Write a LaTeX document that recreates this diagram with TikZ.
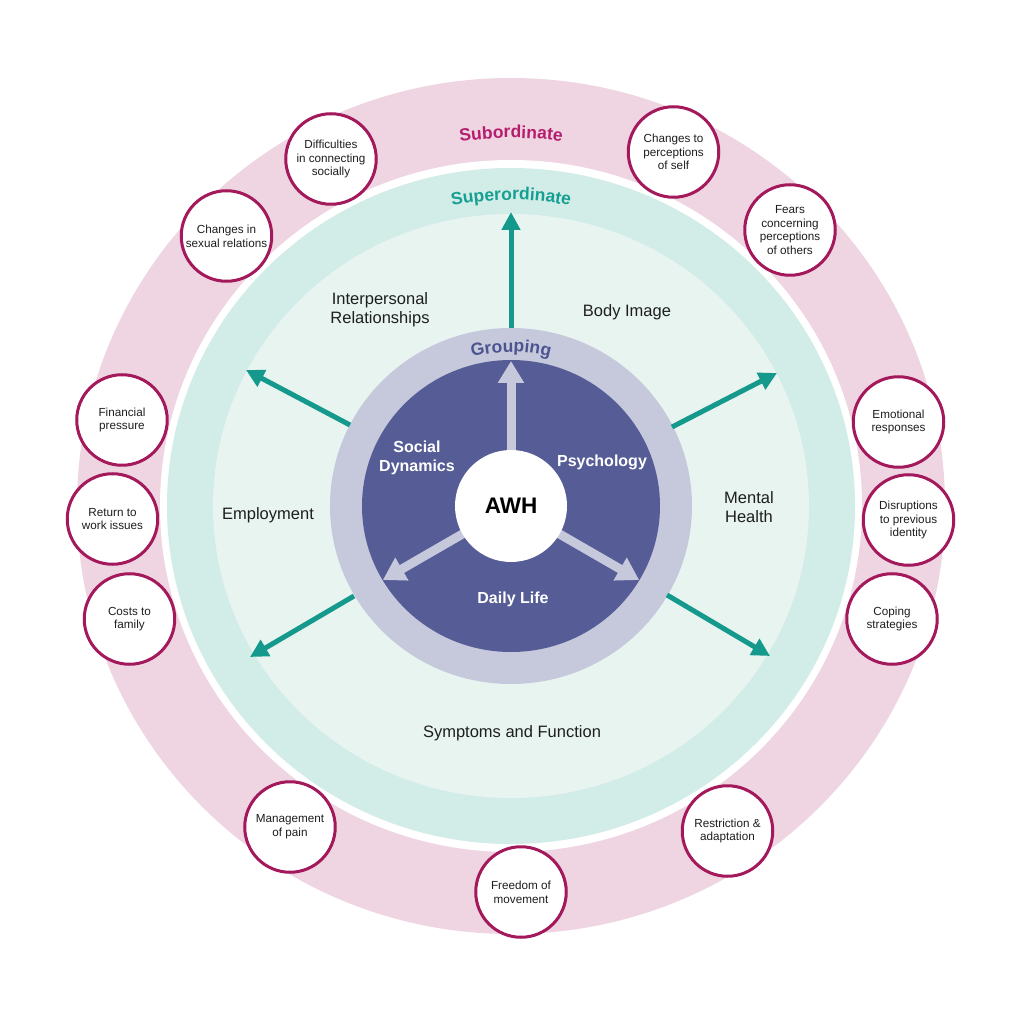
\documentclass[tikz,border=0pt]{standalone}
\usepackage{fontspec}
\setmainfont{Liberation Sans}
\usetikzlibrary{arrows.meta,decorations.text}
\definecolor{pinkring}{HTML}{EFD4E2}
\definecolor{tealring}{HTML}{D2ECE7}
\definecolor{paleg}{HTML}{E8F4F0}
\definecolor{greyring}{HTML}{C6C8DC}
\definecolor{darkblue}{HTML}{565D96}
\definecolor{circborder}{HTML}{A3195B}
\definecolor{subc}{HTML}{B51E6E}
\definecolor{supc}{HTML}{16A092}
\definecolor{tealarr}{HTML}{14998C}
\definecolor{groupc}{HTML}{4C5490}
\definecolor{txt}{HTML}{1E1E1E}
\begin{document}
\begin{tikzpicture}[x=1pt,y=1pt,
  smallc/.style={circle, draw=circborder, line width=3pt, fill=white,
    minimum size=90.5pt, inner sep=0pt, align=center, text=txt,
    font=\fontsize{11.7}{13.7}\selectfont},
  theme/.style={align=center, text=txt, font=\fontsize{16.5}{19}\selectfont},
  inlab/.style={align=center, text=white, font=\bfseries\fontsize{16}{18.5}\selectfont},
  greyarr/.style={draw=greyring, line width=9pt, -{Triangle[length=22pt,width=25pt]}},
  tealarrow/.style={draw=tealarr, line width=5pt, -{Triangle[length=18pt,width=18pt]}}]
\useasboundingbox (-511,-518) rectangle (513,506);
\fill[white] (-511,-518) rectangle (513,506);
% rings
\fill[pinkring] (0,0) ellipse [x radius=434, y radius=428];
\fill[white] (0,0) ellipse [x radius=351, y radius=346];
\fill[tealring] (0,0) ellipse [x radius=344, y radius=338];
\fill[paleg] (0,0) ellipse [x radius=298, y radius=292];
\fill[greyring] (0,0) ellipse [x radius=181, y radius=178];
\fill[darkblue] (0,0) ellipse [x radius=149, y radius=146];
% curved titles
\path[decorate, decoration={text along path, text align=center,
  text={|\bfseries\fontsize{17.5}{20}\selectfont\color{subc}|Subordinate}}]
  (150:368) arc (150:30:368);
\path[decorate, decoration={text along path, text align=center,
  text={|\bfseries\fontsize{17.5}{20}\selectfont\color{supc}|Superordinate}}]
  (150:306) arc (150:30:306);
\path[decorate, decoration={text along path, text align=center,
  text={|\bfseries\fontsize{17.5}{20}\selectfont\color{groupc}|Grouping}}]
  (150:154) arc (150:30:154);
% grey inner arrows
\coordinate (o) at (0,0);
\coordinate (gU) at (90:145);
\coordinate (gL) at (210:148);
\coordinate (gR) at (330:148);
\draw[greyarr] (o) -- (gU);
\draw[greyarr] (o) -- (gL);
\draw[greyarr] (o) -- (gR);
\node[circle, fill=white, minimum size=112pt, inner sep=0pt,
  font=\bfseries\fontsize{22.5}{26}\selectfont, text=black] (awh) at (0,0) {AWH};
% inner labels
\node[inlab] (soc) at (-94,48) {Social\\Dynamics};
\node[inlab] (psy) at (91,44) {Psychology};
\node[inlab] (dl) at (2,-93) {Daily Life};
% teal arrows
\coordinate (sU) at (0,178);   \coordinate (tU) at (0,294);
\coordinate (sUL) at (-161,81); \coordinate (tUL) at (-265,136);
\coordinate (sLL) at (-157,-90); \coordinate (tLL) at (-261,-151);
\coordinate (sUR) at (161,79);  \coordinate (tUR) at (266,133);
\coordinate (sLR) at (156,-89); \coordinate (tLR) at (259,-150);
\draw[tealarrow] (sU) -- (tU);
\draw[tealarrow] (sUL) -- (tUL);
\draw[tealarrow] (sLL) -- (tLL);
\draw[tealarrow] (sUR) -- (tUR);
\draw[tealarrow] (sLR) -- (tLR);
% themes
\node[theme] (ir) at (-131,196) {Interpersonal\\Relationships};
\node[theme] (bi) at (116,194) {Body Image};
\node[theme] (emp) at (-243,-9) {Employment};
\node[theme] (mh) at (238,-1) {Mental\\Health};
\node[theme] (sf) at (1,-227) {Symptoms and Function};
% subordinate circles
\node[smallc] (dcs) at (-180,347) {Difficulties\\in connecting\\socially};
\node[smallc] (csr) at (-284.5,270) {Changes in\\sexual relations};
\node[smallc] (cps) at (162.5,354) {Changes to\\perceptions\\of self};
\node[smallc] (fcp) at (279,276) {Fears\\concerning\\perceptions\\of others};
\node[smallc] (fp) at (-389,86) {Financial\\pressure};
\node[smallc] (rtw) at (-398.5,-13) {Return to\\work issues};
\node[smallc] (ctf) at (-381.5,-113) {Costs to\\family};
\node[smallc] (er) at (387.5,84) {Emotional\\responses};
\node[smallc] (dpi) at (397.5,-14) {Disruptions\\to previous\\identity};
\node[smallc] (cs) at (381,-113) {Coping\\strategies};
\node[smallc] (mp) at (-221,-321) {Management\\of pain};
\node[smallc] (fm) at (10,-386) {Freedom of\\movement};
\node[smallc] (ra) at (216.5,-325) {Restriction \&\\adaptation};
\end{tikzpicture}
\end{document}
